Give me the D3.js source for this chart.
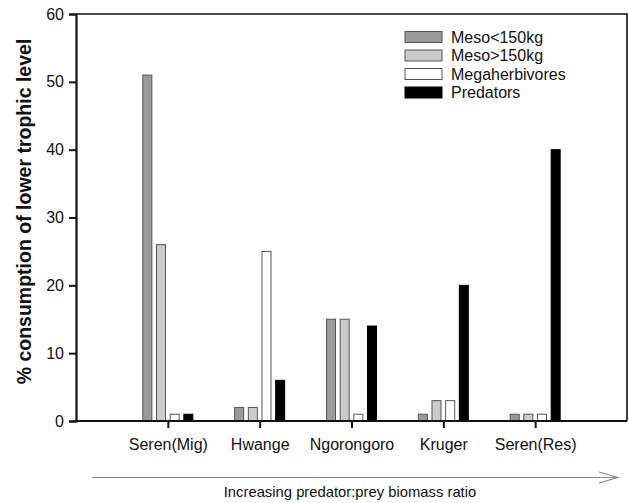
<!DOCTYPE html>
<html>
<head>
<script src="https://d3js.org/d3.v7.min.js"></script>
<style>
  body { margin: 0; background: #fff; }
  text { font-family: "Liberation Sans", Arial, sans-serif; fill: #111; }
</style>
</head>
<body>
<div id="chart"></div>
<script>
// data
const sites = ["Seren(Mig)", "Hwange", "Ngorongoro", "Kruger", "Seren(Res)"];
const groups = ["Meso<150kg", "Meso>150kg", "Megaherbivores", "Predators"];
const mesoSmall = [51, 2, 15, 1, 1];
const mesoLarge = [26, 2, 15, 3, 1];
const megaherb = [1, 25, 1, 3, 1];
const predators = [1, 6, 14, 20, 40];
const yTicks = [0, 10, 20, 30, 40, 50, 60];
const colors = ["#9a9a9a", "#cbcbcb", "#ffffff", "#000000"];

const series = [mesoSmall, mesoLarge, megaherb, predators];
const rows = sites.map((s, i) => ({site: s, idx: i + 1, values: series.map(v => v[i])}));

const W = 629, H = 503;
const plotL = 76, plotR = 627, plotT = 14, plotB = 421;

const svg = d3.select("#chart").append("svg")
    .attr("width", W).attr("height", H);

const x = d3.scaleLinear().domain([0, 6]).range([plotL, plotR]);
const y = d3.scaleLinear().domain([0, 60]).range([plotB, plotT]);
const xin = d3.scaleBand().domain(groups).range([-25, 25]).paddingInner(0.34);
const color = d3.scaleOrdinal().domain(groups).range(colors);

// frame (top + right)
svg.append("path")
    .attr("d", `M${plotL},${plotT}H${plotR}V${plotB}`)
    .attr("fill", "none").attr("stroke", "#111").attr("stroke-width", 1.6);

// bars
const g = svg.append("g").selectAll("g").data(rows).join("g")
    .attr("transform", d => `translate(${x(d.idx)},0)`);
g.selectAll("rect")
    .data(d => d.values.map((v, k) => ({key: groups[k], v})))
    .join("rect")
    .attr("x", d => xin(d.key))
    .attr("width", xin.bandwidth())
    .attr("y", d => y(d.v))
    .attr("height", d => y(0) - y(d.v))
    .attr("fill", d => color(d.key))
    .attr("stroke", d => d.key === "Predators" ? "#000" : "#555")
    .attr("stroke-width", 1);

// y axis
const yAxis = svg.append("g")
    .attr("transform", `translate(${plotL},0)`)
    .call(d3.axisLeft(y).tickValues(yTicks).tickSize(7).tickPadding(5));
yAxis.select(".domain").attr("stroke", "#111").attr("stroke-width", 2.2);
yAxis.selectAll(".tick line").attr("stroke", "#111").attr("stroke-width", 2);
yAxis.selectAll(".tick text").attr("font-size", 16).style("font-family", "Liberation Sans, Arial, sans-serif").attr("fill", "#111");

// x axis
const xAxis = svg.append("g")
    .attr("transform", `translate(0,${plotB})`)
    .call(d3.axisBottom(x).tickValues(rows.map(d => d.idx))
        .tickFormat(i => sites[i - 1]).tickSize(7).tickPadding(11));
xAxis.select(".domain").attr("stroke", "#111").attr("stroke-width", 2.2)
    .attr("d", `M${plotL},0H${plotR}`);
xAxis.selectAll(".tick line").attr("stroke", "#111").attr("stroke-width", 2);
xAxis.selectAll(".tick text").attr("font-size", 16).style("font-family", "Liberation Sans, Arial, sans-serif").attr("fill", "#111");

// y label
svg.append("text")
    .attr("transform", `translate(31,${(plotT + plotB) / 2 - 6}) rotate(-90)`)
    .attr("text-anchor", "middle")
    .attr("font-size", 19.5).attr("font-weight", "bold")
    .text("% consumption of lower trophic level");

// legend
const leg = svg.append("g").selectAll("g").data(groups).join("g")
    .attr("transform", (d, i) => `translate(405,${37 + i * 18.5})`);
leg.append("rect")
    .attr("x", 0).attr("y", -5.5).attr("width", 37).attr("height", 11)
    .attr("fill", d => color(d))
    .attr("stroke", d => d === "Predators" ? "#000" : "#555");
leg.append("text")
    .attr("x", 46).attr("y", 0).attr("dy", "0.35em")
    .attr("font-size", 16)
    .text(d => d);

// arrow under the axis
svg.append("path")
    .attr("d", "M92,477.5H618M599,472L618,477.5L599,483")
    .attr("fill", "none").attr("stroke", "#888").attr("stroke-width", 1.2);
svg.append("text")
    .attr("x", 350).attr("y", 497)
    .attr("text-anchor", "middle")
    .attr("font-size", 14.8)
    .text("Increasing predator:prey biomass ratio");
</script>
</body>
</html>
